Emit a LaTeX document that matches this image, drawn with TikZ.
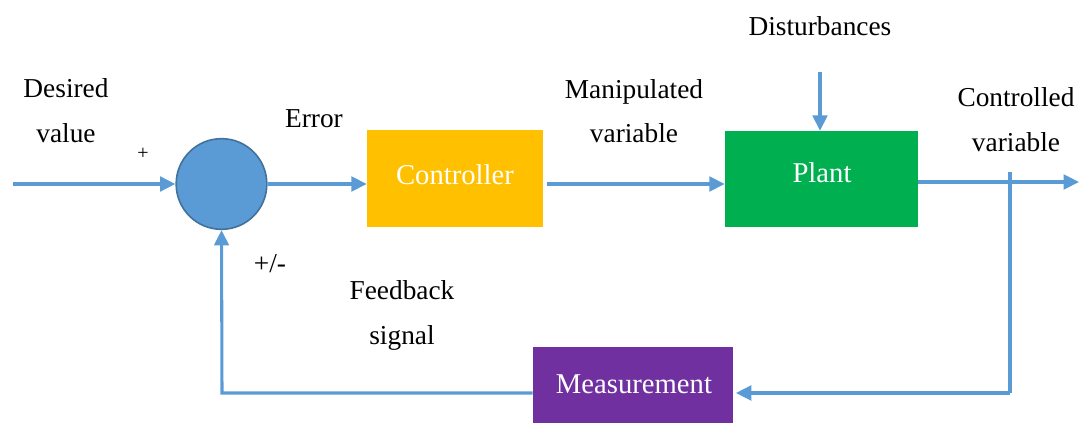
\documentclass[tikz,border=0pt]{standalone}
\usepackage{fontspec}
\setmainfont{Liberation Serif}
\newfontfamily\tnrfont{Liberation Serif}
\usetikzlibrary{arrows.meta,calc}
\definecolor{lineblue}{HTML}{5B9BD5}
\definecolor{sumborder}{HTML}{41719C}
\definecolor{ctrlcol}{HTML}{FFC000}
\definecolor{plantcol}{HTML}{00B050}
\definecolor{meascol}{HTML}{7030A0}
\begin{document}
\begin{tikzpicture}[x=0.75pt,y=-0.75pt,
  every node/.style={font=\tnrfont\fontsize{20.5pt}{24pt}\selectfont},
  lbl/.style={anchor=base,inner sep=0pt,text=black},
  blk/.style={rectangle,draw=none,text=white,inner sep=0pt},
  btxt/.style={text=white,font=\tnrfont\fontsize{21.5pt}{25pt}\selectfont},
  conn/.style={draw=lineblue,line width=2.3pt},
  arr/.style={conn,-{Triangle[length=11.5pt,width=11pt]}}]
\useasboundingbox (0,0) rectangle (1079,423);
% blocks
\node[circle,fill=lineblue,draw=sumborder,line width=1.2pt,minimum size=68pt,inner sep=0pt] (sum) at (221.5,184) {};
\node[blk,fill=ctrlcol,minimum width=132pt,minimum height=72.75pt] (ctrl) at (455,178.5) {};
\node[btxt] (ctrlt) at (455,175) {Controller};
\node[blk,fill=plantcol,minimum width=144.75pt,minimum height=72pt] (plant) at (821.5,179) {};
\node[btxt] (plantt) at (822,173) {Plant};
\node[blk,fill=meascol,minimum width=150pt,minimum height=57pt] (meas) at (633,385) {};
\node[btxt] (meast) at (634,384) {Measurement};
% coordinates
\coordinate (in) at (13,184);
\coordinate (out) at (1079,182);
\coordinate (dist) at (820,72);
\coordinate (tap) at (1010,172);
\coordinate (fb) at (1010,393);
\coordinate (fbl) at (222,393);
% connectors
\draw[arr] (in) -- (sum.west);
\draw[arr] (sum.east) -- (sum.east -| ctrl.west);
\draw[arr,shorten <=3pt] (ctrl.east |- 0,184) -- (plant.west |- 0,184);
\draw[arr] (plant.east |- out) -- (out);
\draw[arr] (dist) -- (dist |- plant.north);
\draw[conn] (tap) -- (fb);
\draw[arr,shorten >=2pt] (fb) -- (fb -| meas.east);
\draw[arr] (fb -| meas.west) -- (fbl) -- (sum.south);
% labels
\node[lbl] (l1) at (66,98) {Desired};
\node[lbl] (l2) at (66,143) {value};
\node[lbl,font=\tnrfont\fontsize{15pt}{18pt}\selectfont] (lp) at (143,160) {+};
\node[lbl] (le) at (314,128) {Error};
\node[lbl] (lm1) at (634,99) {Manipulated};
\node[lbl] (lm2) at (634,143) {variable};
\node[lbl] (ld) at (820,36) {Disturbances};
\node[lbl] (lc1) at (1016,107) {Controlled};
\node[lbl] (lc2) at (1016,152) {variable};
\node[lbl] (lpm) at (270,273) {+/-};
\node[lbl] (lf1) at (402,300) {Feedback};
\node[lbl] (lf2) at (402,345) {signal};
\end{tikzpicture}
\end{document}
